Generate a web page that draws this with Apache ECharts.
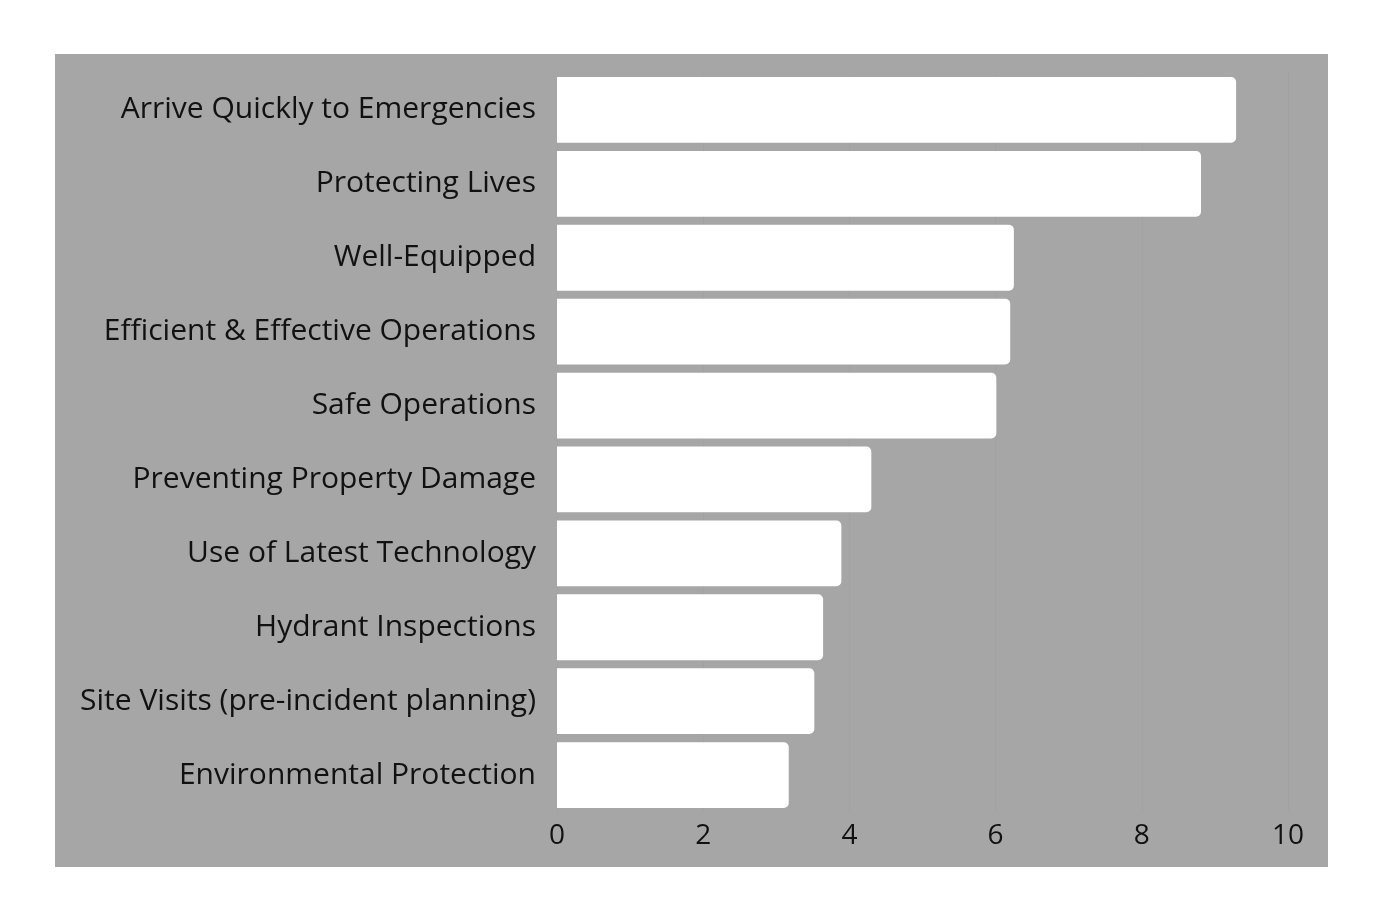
<!DOCTYPE html>
<html>
<head>
<meta charset="utf-8">
<script src="https://cdn.jsdelivr.net/npm/echarts@6/dist/echarts.min.js"></script>
<style>
html,body{margin:0;padding:0;background:#fff;width:1380px;height:921px;overflow:hidden;}
#chart{position:absolute;left:55px;top:54px;width:1273px;height:813px;background:#a6a6a6;}
</style>
</head>
<body>
<div id="chart"></div>
<script>
const categories = [
  "Arrive Quickly to Emergencies",
  "Protecting Lives",
  "Well-Equipped",
  "Efficient & Effective Operations",
  "Safe Operations",
  "Preventing Property Damage",
  "Use of Latest Technology",
  "Hydrant Inspections",
  "Site Visits (pre-incident planning)",
  "Environmental Protection"
];
const values = [9.29, 8.81, 6.25, 6.20, 6.01, 4.30, 3.89, 3.64, 3.52, 3.17];
const xTicks = [0, 2, 4, 6, 8, 10];

const chart = echarts.init(document.getElementById('chart'));
chart.setOption({
  backgroundColor: '#a6a6a6',
  animation: false,
  grid: {left: 502, right: 40, top: 19, bottom: 55, containLabel: false},
  xAxis: {
    type: 'value', min: xTicks[0], max: xTicks[xTicks.length-1], interval: 2,
    axisLine: {show: false}, axisTick: {show: false},
    splitLine: {show: true, lineStyle: {color: '#a2a2a2', width: 1}},
    axisLabel: {color: '#111', fontFamily: 'Open Sans', fontSize: 28, margin: 10}
  },
  yAxis: {
    type: 'category', data: categories, inverse: true,
    axisLine: {show: false}, axisTick: {show: false},
    axisLabel: {color: '#111', fontFamily: 'Open Sans', fontSize: 30, margin: 21}
  },
  series: [{
    type: 'bar', data: values, barCategoryGap: '11%',
    itemStyle: {color: '#ffffff', borderRadius: [0, 5, 5, 0]}
  }]
});
</script>
</body>
</html>
